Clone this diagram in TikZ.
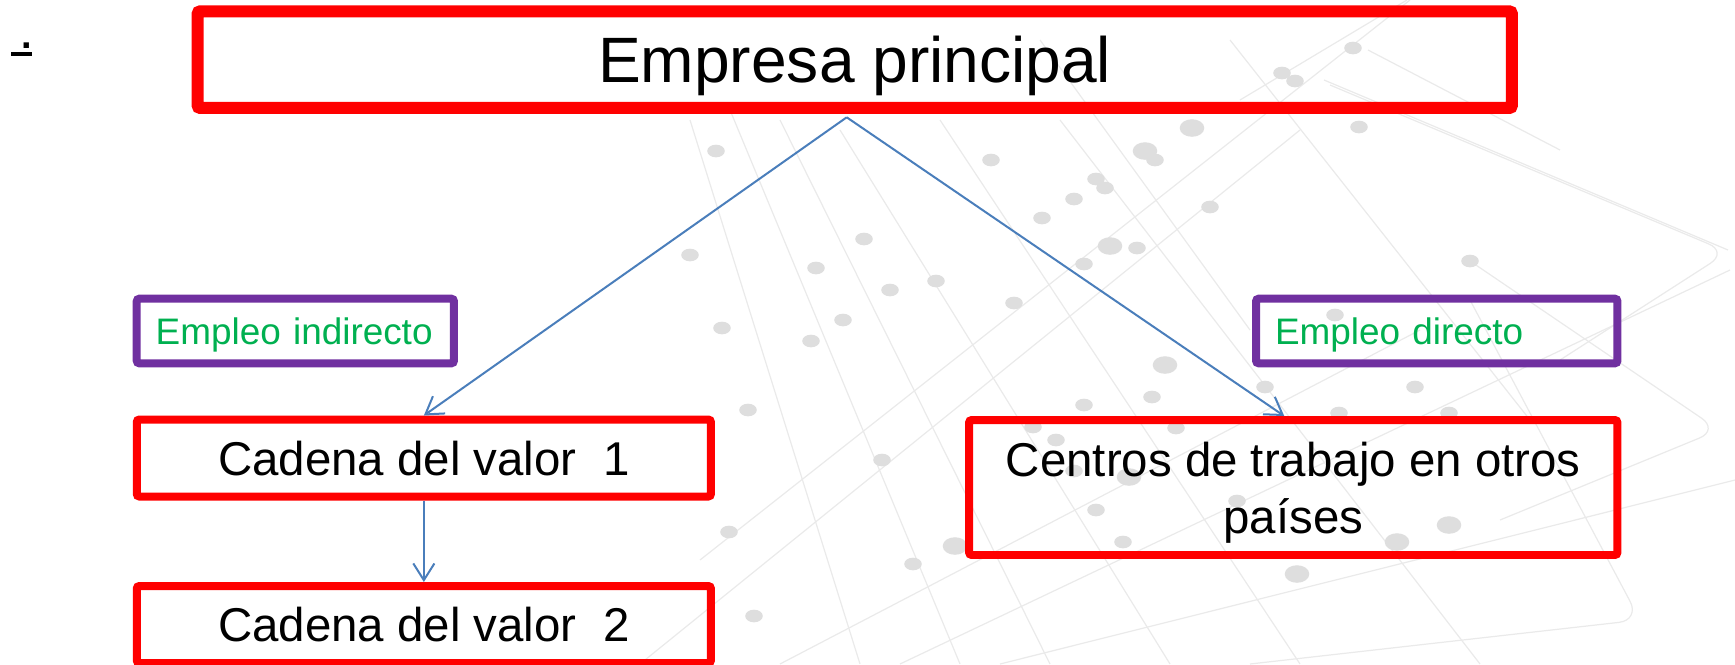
\documentclass[tikz,border=0pt]{standalone}
\usepackage{fontspec}
\setmainfont{Liberation Sans}
\usetikzlibrary{arrows.meta,calc}
\definecolor{boxred}{RGB}{255,0,0}
\definecolor{boxpurple}{RGB}{112,48,160}
\definecolor{txtgreen}{RGB}{0,176,80}
\definecolor{arrowblue}{RGB}{74,126,187}
\definecolor{bgline}{RGB}{234,234,234}
\definecolor{bgdot}{RGB}{222,222,222}
\begin{document}
\begin{tikzpicture}[x=0.02cm,y=-0.02cm,
  redbox/.style={draw=boxred, line width=4.55pt, rounded corners=1.5pt, inner sep=0pt,
    text depth=0pt, align=center, font=\fontsize{27}{32.4}\selectfont},
  topbox/.style={redbox, line width=6.83pt, font=\fontsize{36.5}{44}\selectfont},
  labelbox/.style={draw=boxpurple, line width=4.55pt, rounded corners=1.5pt, inner ysep=0pt,
    inner xsep=0.38cm, text depth=0pt, align=left, text=txtgreen,
    font=\fontsize{21}{25}\selectfont, minimum height=1.292cm},
  conn/.style={draw=arrowblue, line width=1.14pt, -{Straight Barb[length=9.5pt,width=12pt]}},
  bgl/.style={draw=bgline, line width=0.7pt},
  bgd/.style={fill=bgdot},
]
\useasboundingbox (0,0) rectangle (1735,664);

% faint background pattern
\foreach \a/\b/\c/\d in {690/120/860/664, 730/110/960/664, 780/120/1050/664, 840/130/1170/664,
  940/120/1300/664, 1060/120/1480/664, 1230/40/1530/420, 1040/40/1250/330,
  640/664/1300/130, 780/664/1420/330, 900/664/1730/270, 1000/664/1735/480,
  700/560/1410/0, 1240/100/1407/0, 1368/50/1560/150, 1324/80/1728/250}
  {\draw[bgl] (\a,\b) -- (\c,\d);}
\draw[bgl, rounded corners=12pt] (1330,85) -- (1728,252) -- (1560,360);
\draw[bgl, rounded corners=12pt] (1470,261) -- (1719,430) -- (1500,520);
\draw[bgl, rounded corners=12pt] (1250,664) -- (1640,620) -- (1470,300);
\foreach \p in {(1359,127),(991,160),(1155,160),(1096,179),(1105,188),(1074,199),(1042,218),
  (1210,207),(1137,248),(1084,264),(936,281),(890,290),(1014,303),(843,320),(811,341),
  (1470,261),(1335,315),(1265,387),(1415,387),(1152,397),(1084,405),(1449,413),(1339,413),
  (1033,427),(1176,428),(1056,440),(1074,471),(1237,501),(1096,510),(1123,542),(913,564),
  (748,410),(722,328),(816,268),(864,239),(729,532),(754,616),(882,460),(690,255),(716,151),
  (1353,48),(1282,73),(1295,81)}
  {\fill[bgd] \p ellipse [x radius=5pt, y radius=3.6pt];}
\foreach \p in {(1192,128),(1145,151),(1110,246),(1165,365),(1129,477),(1449,525),(1397,542),
  (955,546),(1297,574)}
  {\fill[bgd] \p ellipse [x radius=7pt, y radius=5pt];}

% diagram
\node[anchor=base west, inner sep=0pt, font=\fontsize{21.6}{26}\selectfont\bfseries] (dot)
  at (10.7,48.7) {\rlap{\rule[-4pt]{12pt}{2.3pt}}\ .};
\node[topbox, minimum width=26.29cm, minimum height=1.934cm] (top) at (854.75,59.65)
  {Empresa principal};
\node[labelbox, text width=5.586cm] (ind) at (295.35,331) {Empleo indirecto};
\node[labelbox, text width=6.47cm] (dir) at (1436.75,331) {Empleo directo};
\node[redbox, minimum width=11.486cm, minimum height=1.54cm] (c1) at (423.85,458)
  {Cadena del valor\ \ 1};
\node[redbox, minimum width=11.486cm, minimum height=1.54cm] (c2) at (423.85,624.5)
  {Cadena del valor\ \ 2};
\node[redbox, minimum width=12.97cm, minimum height=2.7cm] (c3) at (1293.25,487.5)
  {Centros de trabajo en otros\\países};

\coordinate (apex) at (846.7,117.3);
\draw[conn] (apex) -- (c1.north);
\draw[conn] (apex) -- ($(c3.north)+(-9,0)$);
\draw[conn] (c1.south) -- (c2.north);
\end{tikzpicture}
\end{document}
